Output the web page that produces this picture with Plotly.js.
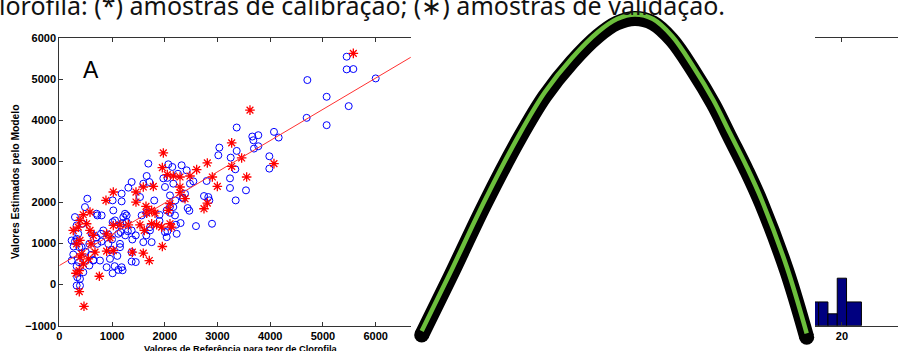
<!DOCTYPE html>
<html>
<head>
<meta charset="utf-8">
<script src="https://cdn.plot.ly/plotly-3.0.1.min.js"></script>
<style>html,body{margin:0;padding:0;background:#fff;}#chart{width:898px;height:351px;}</style>
</head>
<body>
<div id="chart"></div>
<script>
// Panel A: calibration samples (red asterisks)
const calX = [5576,3616,4071,3269,3458,3553,2997,2902,2807,2605,2744,2807,3269,1973,1954,2048,2162,2289,2289,2289,2478,2384,2099,2067,2099,2130,1941,1846,1751,1815,1751,1644,1657,1783,1593,1454,1454,1530,1612,1593,1707,1954,1385,1309,1151,1024,885,1024,898,961,898,1024,759,677,601,582,645,582,455,392,360,265,329,392,423,392,455,379,316,379,468,550,518];
const calY = [5634,4250,2948,3452,3086,2622,2394,2622,2964,2801,1849,1987,2883,3208,2850,2679,2646,2622,2378,2240,2646,2093,1971,1808,1483,1401,1401,1458,1483,1743,1808,1906,1743,2394,2378,2256,2012,1458,1320,766,587,929,791,1458,1458,2256,2052,1442,1238,1141,815,831,205,791,994,1320,1198,1767,1702,1564,1401,1320,994,1076,750,669,506,343,278,-170,-528,628,1483];

// Panel A: validation samples (blue circles)
const valX = [6000,5450,5450,5576,5488,5070,5070,4704,4691,4160,4071,3983,3983,3774,3660,3680,3692,3774,3364,3364,3338,3345,3540,3250,3237,3237,3016,3035,2896,2592,2794,2826,2744,2845,2542,2478,2415,2320,2434,2466,2339,2384,2162,2143,2067,1973,2004,2099,2162,2036,2004,2036,2226,2212,2194,1688,1657,1593,1707,1530,1720,1720,1751,1593,1562,1372,1309,1277,1246,1277,1372,1385,1372,1372,1214,1163,1163,1182,1182,1056,1119,1151,1151,1182,1119,1024,1011,1011,929,929,993,961,1011,898,834,790,771,721,708,721,613,569,569,531,487,443,360,297,234,265,329,297,379,423,373,329,341,392,329,392,455,601,234,271,329,645,803,1900,2100,2200,1800,2350,2250,2050,1650,1300,1250,1000,800,1100,1200,1450,1450,1050,1200,650,500,700,2100,2300,2050,1650,1900];
const valY = [5023,5552,5243,5251,4348,4576,3884,4983,4063,3583,3721,3127,2826,3640,3607,3517,3314,3371,3827,3257,2809,2052,2297,3094,2589,2354,3151,3338,1483,1426,2525,2134,2158,2052,2516,2459,2785,2907,1865,1800,2117,2215,2459,2866,2931,2589,2378,2174,1890,1808,1279,1157,1238,1458,1686,2948,2646,2459,2500,2134,1401,1320,1035,1035,1686,2500,2362,1686,1726,1523,1320,1100,791,563,1645,1442,1279,2215,2028,1564,1238,994,913,424,359,1808,2052,1523,1222,994,848,628,278,424,1320,1238,587,994,1727,1686,1238,994,465,2093,1889,1483,1238,1645,587,734,1116,1051,913,913,547,449,180,140,-23,-23,302,726,1076,929,1442,587,1686,1700,1900,2050,2050,2100,2700,2600,1200,1300,1200,1100,1050,700,1500,1200,550,450,350,600,800,1150,1750,1500,1300,1750,1550];

// Regression line
const fitX = [0, 6700];
const fitY = [465, 5564];

// Histogram panel (partially visible)
const histX = [17, 18, 19, 20, 21.3];
const histW = [1, 1, 1, 1, 1.6];
const histY = [2, 2, 1, 4, 2];

// Overlaid arc drawing
const arcX = [421.7,450,485,520,545,572,598,617,635,653,672,693.3,713.3,730,746.7,761.7,786.7,806.7];
const arcY = [331,273.3,200,133.3,92,58,32,19,14.5,19,36,66.7,100,133.3,166.7,200,266.7,333.3];

// Axis ticks
const yTicks = [-1000,0,1000,2000,3000,4000,5000,6000];
const xTicks = [0,1000,2000,3000,4000,5000,6000];

const W = 898, H = 351;
const tickFont = {family:'Liberation Sans, Arial, sans-serif', size:11, color:'#000', weight:'bold'};
const plotL = 59.3, plotR = 410.7, plotT = 38.3, plotB = 325.7;

const traces = [
  {x: valX, y: valY, type:'scatter', mode:'markers', xaxis:'x', yaxis:'y',
   marker:{symbol:'circle-open', size:7, color:'#0000ff', line:{width:1, color:'#0000ff'}}},
  {x: calX, y: calY, type:'scatter', mode:'markers', xaxis:'x', yaxis:'y',
   marker:{symbol:'asterisk-open', size:8, color:'#ff0000', line:{width:1.3, color:'#ff0000'}}},
  {x: fitX, y: fitY, type:'scatter', mode:'lines', xaxis:'x', yaxis:'y',
   line:{color:'#ff3030', width:1}},
  {x: histX, y: histY, width: histW, type:'bar', xaxis:'x2', yaxis:'y2',
   marker:{color:'#000080', line:{color:'#000', width:1}}},
  {x: arcX, y: arcY, type:'scatter', mode:'lines', xaxis:'x3', yaxis:'y3',
   line:{color:'#000', width:15, shape:'spline', smoothing:1}},
  {x: [arcX[0], arcX[arcX.length-1]], y: [arcY[0], arcY[arcY.length-1]], type:'scatter', mode:'markers', xaxis:'x3', yaxis:'y3',
   marker:{color:'#000', size:15, line:{width:0}}},
  {x: arcX, y: arcY, type:'scatter', mode:'lines', xaxis:'x3', yaxis:'y4',
   line:{color:'#6cbf3c', width:4.5, shape:'spline', smoothing:1}}
];

const layout = {
  width: W, height: H,
  margin:{l:0, r:0, t:0, b:0},
  paper_bgcolor:'#fff', plot_bgcolor:'rgba(0,0,0,0)',
  showlegend:false,
  xaxis:{domain:[plotL/W, plotR/W], range:[0, 6664], tickvals:xTicks, ticks:'inside', ticklen:4,
         tickcolor:'#333', showline:true, linecolor:'#333', linewidth:1, mirror:'ticks',
         showgrid:false, zeroline:false, tickfont:tickFont, anchor:'y'},
  yaxis:{domain:[1-plotB/H, 1-plotT/H], range:[-1000, 6000], tickvals:yTicks, ticks:'inside', ticklen:4,
         tickcolor:'#333', showline:true, linecolor:'#333', linewidth:1, mirror:false,
         showgrid:false, zeroline:false, tickfont:tickFont, anchor:'x'},
  xaxis2:{domain:[815/W, 1], range:[17.11, 26.03], tickvals:[20], ticks:'inside', ticklen:4,
          tickcolor:'#333', showline:true, linecolor:'#333', linewidth:1, mirror:'ticks',
          showgrid:false, zeroline:false, tickfont:tickFont, anchor:'y2'},
  yaxis2:{domain:[1-plotB/H, 1-plotT/H], range:[0, 24.2], visible:false, anchor:'x2'},
  xaxis3:{domain:[0,1], range:[0, W], visible:false, anchor:'y3'},
  yaxis3:{domain:[0,1], range:[H-4, -4], visible:false, anchor:'x3'},
  yaxis4:{domain:[0,1], range:[H, 0], visible:false, anchor:'x3', overlaying:'y3'},
  annotations:[
    {text:'clorofila: (*) amostras de calibração; (∗) amostras de validação.', xref:'paper', yref:'paper',
     x:727/W, y:1-5.4/H, xanchor:'right', yanchor:'middle', showarrow:false,
     font:{family:'Noto Sans, Open Sans, sans-serif', size:25, color:'#111'}},
    {text:'A', xref:'paper', yref:'paper', x:90.8/W, y:1-70/H, xanchor:'center', yanchor:'middle', showarrow:false,
     font:{family:'Liberation Sans, Arial, sans-serif', size:23, color:'#000'}},
    {text:'Valores Estimados pelo Modelo', xref:'paper', yref:'paper', textangle:-90,
     x:15/W, y:1-182/H, xanchor:'center', yanchor:'middle', showarrow:false,
     font:{family:'Liberation Sans, Arial, sans-serif', size:10.3, weight:'bold', color:'#000'}},
    {text:'Valores de Referência para teor de Clorofila', xref:'paper', yref:'paper',
     x:241/W, y:1-349/H, xanchor:'center', yanchor:'middle', showarrow:false,
     font:{family:'Liberation Sans, Arial, sans-serif', size:9.3, weight:'bold', color:'#000'}}
  ]
};

Plotly.newPlot('chart', traces, layout, {staticPlot:true, displayModeBar:false});
</script>
</body>
</html>
